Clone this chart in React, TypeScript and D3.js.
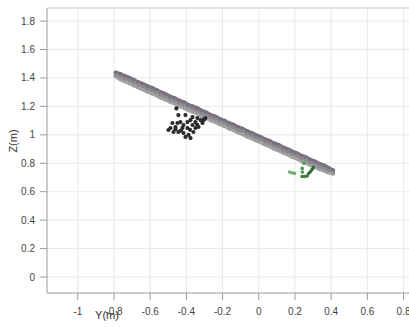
import React from 'react';
import * as d3 from 'd3';

// tick values
const yTicks = [-1, -0.8, -0.6, -0.4, -0.2, 0, 0.2, 0.4, 0.6, 0.8];
const zTicks = [0, 0.2, 0.4, 0.6, 0.8, 1, 1.2, 1.4, 1.6, 1.8];

// gray band (wall points), sampled along Y
const bandY = [-0.79, -0.765, -0.74, -0.715, -0.69, -0.665, -0.64, -0.615, -0.59, -0.565,
  -0.54, -0.515, -0.49, -0.465, -0.44, -0.415, -0.39, -0.365, -0.34, -0.315,
  -0.29, -0.265, -0.24, -0.215, -0.19, -0.165, -0.14, -0.115, -0.09, -0.065,
  -0.04, -0.015, 0.01, 0.035, 0.06, 0.085, 0.11, 0.135, 0.16, 0.185,
  0.21, 0.235, 0.26, 0.285, 0.31, 0.335, 0.36, 0.385, 0.41];
const bandTopZ = [1.437, 1.427, 1.413, 1.4, 1.385, 1.369, 1.357, 1.341, 1.329, 1.314,
  1.298, 1.285, 1.268, 1.257, 1.24, 1.229, 1.211, 1.199, 1.186, 1.168,
  1.156, 1.139, 1.128, 1.111, 1.099, 1.082, 1.07, 1.054, 1.042, 1.025,
  1.013, 0.996, 0.984, 0.968, 0.956, 0.939, 0.927, 0.91, 0.898, 0.882,
  0.87, 0.853, 0.841, 0.824, 0.812, 0.795, 0.783, 0.766, 0.75];
const bandMidZ = [1.422, 1.408, 1.395, 1.383, 1.366, 1.351, 1.34, 1.322, 1.311, 1.297,
  1.279, 1.268, 1.25, 1.24, 1.222, 1.211, 1.193, 1.182, 1.168, 1.15,
  1.139, 1.121, 1.111, 1.093, 1.082, 1.064, 1.053, 1.036, 1.025, 1.007,
  0.996, 0.978, 0.967, 0.95, 0.939, 0.921, 0.91, 0.892, 0.881, 0.864,
  0.853, 0.835, 0.824, 0.806, 0.795, 0.778, 0.766, 0.75, 0.738];
const bandLowZ = [1.412, 1.392, 1.377, 1.365, 1.349, 1.334, 1.322, 1.305, 1.293, 1.28,
  1.262, 1.25, 1.233, 1.222, 1.205, 1.193, 1.176, 1.164, 1.151, 1.133,
  1.121, 1.104, 1.093, 1.076, 1.064, 1.047, 1.035, 1.019, 1.007, 0.99,
  0.978, 0.961, 0.949, 0.933, 0.921, 0.904, 0.892, 0.875, 0.863, 0.847,
  0.835, 0.818, 0.806, 0.789, 0.778, 0.761, 0.75, 0.737, 0.728];

// dark cluster
const darkY = [-0.455, -0.444, -0.405, -0.499, -0.477, -0.46, -0.433, -0.416, -0.394, -0.377,
  -0.366, -0.35, -0.339, -0.322, -0.306, -0.333, -0.361, -0.388, -0.377, -0.416,
  -0.444, -0.471, -0.488, -0.422, -0.449, -0.394, -0.366, -0.311, -0.35, -0.405,
  -0.295, -0.3, -0.43, -0.46, -0.38, -0.34];
const darkZ = [1.186, 1.139, 1.139, 1.034, 1.083, 1.055, 1.09, 1.069, 1.048, 1.104,
  1.069, 1.09, 1.118, 1.104, 1.104, 1.055, 1.02, 0.999, 0.977, 1.013,
  1.02, 1.02, 1.048, 1.048, 1.083, 1.09, 1.125, 1.083, 1.048, 0.985,
  1.118, 1.11, 1.03, 1.04, 1.035, 1.07];

// green cluster
const greenY = [0.17, 0.183, 0.197, 0.249, 0.24, 0.241, 0.295, 0.286, 0.276, 0.267, 0.252, 0.239, 0.302];
const greenZ = [0.738, 0.733, 0.729, 0.8, 0.764, 0.738, 0.757, 0.742, 0.728, 0.71, 0.707, 0.707, 0.77];
const greenShade = ['#78b278', '#72ae73', '#6ca96d', '#4f9a55', '#4a9550', '#4a9350', '#2f6e38', '#2f6e38', '#2f6e38', '#2f6e38', '#3b7e44', '#3f8547', '#2f6e38'];

const W = 409;
const H = 327;
const left = 47;
const top = 8;
const bottom = 293;

export default function App() {
  const x = d3.scaleLinear().domain([-1.17, 0.83]).range([left, W]);
  const y = d3.scaleLinear().domain([-0.1125, 1.892]).range([bottom, top]);
  const fmt = (v: number) => String(+v.toFixed(1));
  const font = '"Liberation Sans", Arial, sans-serif';
  const row = (zs: number[]) =>
    d3.line<number>().x((_, i) => x(bandY[i])).y((d) => y(d)).curve(d3.curveCatmullRom)(zs) || '';

  return (
    <svg width={W} height={H} style={{ position: 'absolute', left: 0, top: 0, background: '#fff' }}>
      {/* grid */}
      {yTicks.map((t) => (
        <line key={'gx' + t} x1={x(t)} x2={x(t)} y1={top} y2={bottom} stroke="#e9e9e9" strokeWidth={1} />
      ))}
      {zTicks.map((t) => (
        <line key={'gy' + t} x1={left} x2={W} y1={y(t)} y2={y(t)} stroke="#e9e9e9" strokeWidth={1} />
      ))}
      {/* frame */}
      <line x1={left} x2={W} y1={top} y2={top} stroke="#c8c8c8" />
      <line x1={left} x2={left} y1={top} y2={bottom} stroke="#999" />
      <line x1={left} x2={W} y1={bottom} y2={bottom} stroke="#999" />

      {/* axes ticks and labels */}
      {yTicks.map((t) => (
        <g key={'tx' + t}>
          <line x1={x(t)} x2={x(t)} y1={bottom} y2={bottom + 7} stroke="#999" />
          <text x={x(t)} y={bottom + 22} textAnchor="middle" fontSize={10} fill="#444" fontFamily={font}>{fmt(t)}</text>
        </g>
      ))}
      {zTicks.map((t) => (
        <g key={'tz' + t}>
          <line x1={left - 7} x2={left} y1={y(t)} y2={y(t)} stroke="#999" />
          <text x={left - 12} y={y(t)} dy="0.35em" textAnchor="end" fontSize={10} fill="#444" fontFamily={font}>{fmt(t)}</text>
        </g>
      ))}
      <text x={107} y={319} textAnchor="middle" fontSize={11} fill="#333" fontFamily={font}>Y(m)</text>
      <text transform={`translate(17,141) rotate(-90)`} textAnchor="middle" fontSize={11} fill="#333" fontFamily={font}>Z(m)</text>

      {/* band */}
      <path d={row(bandLowZ)} fill="none" stroke="#a4a6a4" strokeWidth={4.4} strokeLinecap="round" />
      <path d={row(bandTopZ)} fill="none" stroke="#7c7482" strokeWidth={4.2} strokeLinecap="round" />
      <path d={row(bandMidZ)} fill="none" stroke="#8f8b93" strokeWidth={3.6} strokeLinecap="round" />
      {bandY.map((v, i) => (
        <circle key={'bl' + i} cx={x(v)} cy={y(bandLowZ[i])} r={2.1} fill="#9ea19e" />
      ))}
      {bandY.map((v, i) => (
        <circle key={'bt' + i} cx={x(v)} cy={y(bandTopZ[i])} r={2.1} fill="#787080" />
      ))}
      {bandY.map((v, i) => (
        <circle key={'bm' + i} cx={x(v)} cy={y(bandMidZ[i])} r={1.8} fill="#8c8890" />
      ))}

      {/* dark cluster */}
      {darkY.map((v, i) => (
        <circle key={'d' + i} cx={x(v)} cy={y(darkZ[i])} r={2.1} fill="#2a2a2a" />
      ))}

      {/* green cluster */}
      {greenY.map((v, i) => (
        <circle key={'g' + i} cx={x(v)} cy={y(greenZ[i])} r={1.8} fill={greenShade[i]} />
      ))}
    </svg>
  );
}
